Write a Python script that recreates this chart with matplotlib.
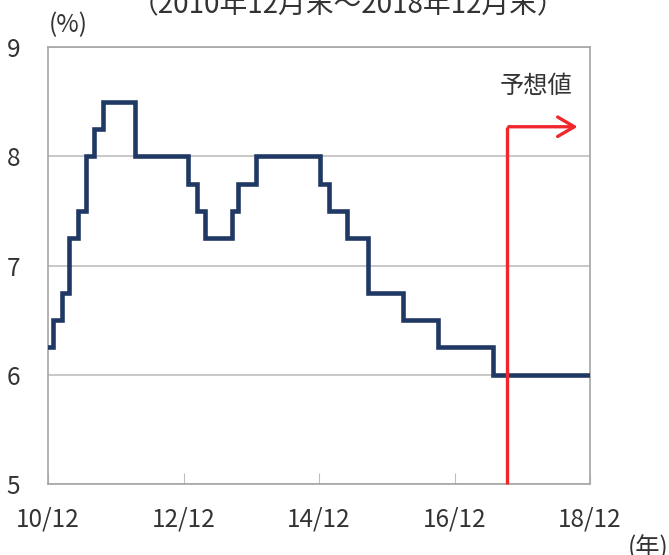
"""India policy rate step chart, 2010/12 - 2018/12."""
import matplotlib
matplotlib.use("Agg")
import matplotlib.pyplot as plt

plt.rcParams['font.family'] = ['Noto Sans CJK JP', 'DejaVu Sans']

# months since 2010/12 at which the rate changed, and the new rate (%)
change_months = [0, 0.9, 2.5, 3.7, 5.3, 6.7, 8.1, 9.7, 15.4, 24.8, 26.4,
                 27.8, 32.6, 33.7, 36.8, 48.2, 49.8, 53.0, 56.7, 62.9, 69.1,
                 78.9]
rates = [6.25, 6.5, 6.75, 7.25, 7.5, 8.0, 8.25, 8.5, 8.0, 7.75, 7.5, 7.25,
         7.5, 7.75, 8.0, 7.75, 7.5, 7.25, 6.75, 6.5, 6.25, 6.0]
end_month = 96
forecast_start = 81.3

tick_months = [0, 24, 48, 72, 96]
tick_labels = ["10/12", "12/12", "14/12", "16/12", "18/12"]
y_ticks = [5, 6, 7, 8, 9]

title = "（2010年12月末～2018年12月末）"

NAVY = "#203864"
RED = "#f0282c"
GRID = "#bfbfbf"
TEXT = "#333333"
FS = 17.5

fig = plt.figure(figsize=(6.69, 5.55), dpi=100)
ax = fig.add_axes([48 / 669, 1 - 484 / 555, 542 / 669, 437 / 555])

x = change_months + [end_month]
y = rates + [rates[-1]]
ax.step(x, y, where="post", color=NAVY, lw=3.3, solid_joinstyle="miter",
        zorder=3)

ax.set_xlim(0, 96)
ax.set_ylim(5, 9)
ax.set_xticks(tick_months)
ax.set_xticklabels(tick_labels, fontsize=FS, color=TEXT)
ax.set_yticks(y_ticks)
ax.set_yticklabels([str(v) for v in y_ticks], fontsize=FS, color=TEXT)
ax.tick_params(axis="x", direction="in", length=8, color=GRID, pad=16)
ax.tick_params(axis="y", length=0, pad=20)
ax.grid(axis="y", color=GRID, lw=1.2)
for s in ax.spines.values():
    s.set_color("#a6a6a6")
    s.set_linewidth(1.2)

# forecast marker
top = 8.27
ax.plot([forecast_start, forecast_start], [5, top], color=RED, lw=2.4,
        solid_capstyle="butt", zorder=4, clip_on=False)
ax.annotate("", xy=(94.3, top), xytext=(forecast_start - 0.2, top),
            arrowprops=dict(arrowstyle="->,head_length=1.2,head_width=0.7",
                            color=RED, lw=2.4), zorder=4)
ax.text(86.5, 8.64, "予想値", fontsize=FS, color=TEXT, ha="center",
        va="center")

fig.text(68 / 669, 1 - 25 / 555, "(%)", fontsize=FS, color=TEXT,
         ha="center", va="center")
fig.text(648 / 669, 1 - 548 / 555, "(年)", fontsize=FS, color=TEXT,
         ha="center", va="center")
fig.text(348 / 669, 1 - 13 / 555, title, fontsize=20, color=TEXT,
         ha="center", va="baseline")

fig.savefig("out.png", dpi=100)
plt.close(fig)
